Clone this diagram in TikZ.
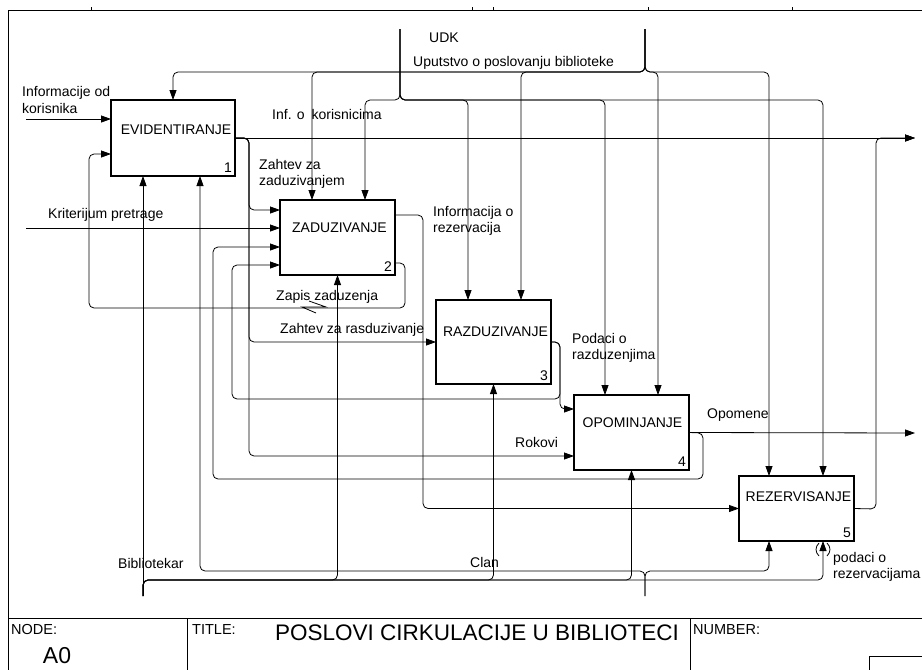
\documentclass[tikz,border=0pt]{standalone}
\usepackage{fontspec}
\setmainfont{Liberation Sans}
\usetikzlibrary{arrows.meta,calc}
\begin{document}
\begin{tikzpicture}[x=1pt,y=-1pt,
  font=\fontsize{14}{16.5}\selectfont,
  box/.style={draw, line width=1.6pt, inner sep=0pt, outer sep=0pt, anchor=north west, minimum width=115pt},
  conn/.style={draw, line width=0.8pt, rounded corners=5pt},
  arr/.style={conn, -{Triangle[length=10pt,width=7pt]}},
  lbl/.style={anchor=west, inner sep=0pt, align=left},
  frame/.style={draw, line width=1pt},
  small/.style={font=\fontsize{14.5}{16}\selectfont}
]
\useasboundingbox (0,0) rectangle (922,670);

% sheet frame and title block
\draw[frame] (922,10) -- (8,10) -- (8,670);
\foreach \t in {91,472,493,648,792} \draw[line width=0.6pt] (\t,7) -- (\t,10);
\draw[frame] (8,618) -- (922,618);
\draw[frame] (187,618) -- (187,670);
\draw[frame] (690,618) -- (690,670);
\draw[frame] (869,656) -- (869,670);
\draw[frame] (869,656) -- (922,656);
\node[lbl, small] (tnode) at (11,630) {NODE:};
\node[inner sep=0pt, font=\fontsize{23}{26}\selectfont] (tnum) at (57,656) {A0};
\node[lbl, small] (ttitle) at (192,630) {TITLE:};
\node[inner sep=0pt, font=\fontsize{22.5}{26}\selectfont] (tname) at (477,633) {POSLOVI CIRKULACIJE U BIBLIOTECI};
\node[lbl, small] (tnumber) at (693,630) {NUMBER:};

% activity boxes
\node[box, minimum width=124pt, minimum height=76pt] (b1) at (111,100) {};
\node[box, minimum height=75pt] (b2) at (280,200) {};
\node[box, minimum height=84pt] (b3) at (436,300) {};
\node[box, minimum height=75pt] (b4) at (574,395) {};
\node[box, minimum height=65pt] (b5) at (739,476) {};

\node[inner sep=0pt] (b1t) at ($(b1.north)+(3,30)$) {EVIDENTIRANJE};
\node[inner sep=0pt] (b2t) at ($(b2.north)+(2,28)$) {ZADUZIVANJE};
\node[inner sep=0pt] (b3t) at ($(b3.north)+(2,32)$) {RAZDUZIVANJE};
\node[inner sep=0pt] (b4t) at ($(b4.north)+(1,28)$) {OPOMINJANJE};
\node[inner sep=0pt] (b5t) at ($(b5.north)+(2,21)$) {REZERVISANJE};
\foreach \b/\n in {b1/1,b2/2,b3/3,b4/4,b5/5}
  \node[anchor=south east, inner sep=0pt] (\b n) at ($(\b.south east)+(-3,-3)$) {\n};

% controls from the top
\coordinate (udk) at (400,29);
\coordinate (udkJ) at (400,100);
\coordinate (uput) at (645,29);
\coordinate (uputJ) at (645,72);
\draw[arr] (uput) -- (uputJ) -| (b1.north);
\draw[arr] (uput) -- (uputJ) -| ($(b2.north west)+(32,0)$);
\draw[arr] (uput) -- (uputJ) -| ($(b3.north west)+(85,0)$);
\draw[arr] (uput) -- (uputJ) -| ($(b4.north west)+(84,0)$);
\draw[arr] (uput) -- (uputJ) -| ($(b5.north west)+(30,0)$);
\draw[arr] (udk) -- (udkJ) -| ($(b2.north west)+(85,0)$);
\draw[arr] (udk) -- (udkJ) -| ($(b3.north west)+(32,0)$);
\draw[arr] (udk) -- (udkJ) -| ($(b4.north west)+(31,0)$);
\draw[arr] (udk) -- (udkJ) -| ($(b5.north west)+(84,0)$);
\node[lbl] (lUDK) at (429,38) {UDK};
\node[lbl] (lUput) at (413,63) {Uputstvo o poslovanju biblioteke};

% inputs from the left
\coordinate (infk) at (26,119);
\coordinate (krit) at (26,228);
\draw[arr] (infk) -- (infk -| b1.west);
\draw[arr] (krit) -- (krit -| b2.west);
\node[lbl] (lInfk) at (22,100) {Informacije od\\korisnika};
\node[lbl] (lKrit) at (48,215) {Kriterijum pretrage};

% outputs of EVIDENTIRANJE
\coordinate (outA) at (915,138);
\draw[arr] (b1.east) -- (outA);
\draw[arr] (b1.east) -- (249,138) |- ($(b2.north west)+(0,10)$);
\draw[arr] (b1.east) -- (249,138) |- (b3.west);
\draw[arr] (b1.east) -- (249,138) |- ($(b4.north west)+(0,61)$);
\node[lbl] (lInfo) at (272,114) {Inf. o\hspace{7pt}korisnicima};
\node[lbl] (lZz) at (259,174) {Zahtev za\\zaduzivanjem};
\node[lbl] (lZr) at (280,330) {Zahtev za rasduzivanje};
\node[lbl] (lRok) at (515,442) {Rokovi};

% outputs of ZADUZIVANJE
\draw[arr] ($(b2.north east)+(0,15)$) -- (423,215) |- (b5.west);
\draw[arr] ($(b2.north east)+(0,63)$) -- (405,263) -- (405,308) -- (89,308) |- ($(b1.north west)+(0,54)$);
\node[lbl] (lIr) at (433,221) {Informacija o\\rezervacija};
\node[lbl] (lZap) at (276,297) {Zapis zaduzenja};
\draw[line width=0.8pt] (309,301) -- (326,307) -- (302,307) -- (316,313);

% outputs of RAZDUZIVANJE
\draw[arr] (b3.east) -- (560,342) -- (560,399) -- (232,399) |- ($(b2.north west)+(0,65)$);
\draw[arr] (b3.east) -- (560,342) |- ($(b4.north west)+(0,14)$);
\node[lbl] (lPr) at (572,348) {Podaci o\\razduzenjima};

% outputs of OPOMINJANJE
\coordinate (outB) at (915,433);
\draw[arr] (b4.east) -- (outB);
\draw[arr] (b4.east) -- (703,433) -- (703,479) -- (213,479) |- ($(b2.north west)+(0,47)$);
\node[lbl] (lOpo) at (707,415) {Opomene};

% output of REZERVISANJE
\draw[arr] (b5.east) -- (876,509) |- (outA);

% mechanisms from the bottom
\coordinate (bib) at (143,596);
\coordinate (bibJ) at (143,580);
\coordinate (clan) at (645,596);
\coordinate (clanJ) at (645,571);
\draw[arr] (bib) -- ($(b1.south west)+(32,0)$);
\draw[arr] (bib) -- (bibJ) -| (b2.south);
\draw[arr] (bib) -- (bibJ) -| (b3.south);
\draw[arr] (bib) -- (bibJ) -| (b4.south);
\draw[arr] (bib) -- (bibJ) -| ($(b5.south west)+(84,0)$);
\draw[arr] (clan) -- (clanJ) -| ($(b1.south west)+(89,0)$);
\draw[arr] (clan) -- (clanJ) -| ($(b5.south west)+(30,0)$);
\draw[line width=0.8pt] (819,543) .. controls (815,547) and (815,552) .. (819,556);
\draw[line width=0.8pt] (827,543) .. controls (831,547) and (831,552) .. (827,556);
\node[lbl] (lBib) at (118,563) {Bibliotekar};
\node[lbl] (lClan) at (470,562) {Clan};
\node[lbl] (lPrez) at (833,567) {podaci o\\rezervacijama};
\end{tikzpicture}
\end{document}
